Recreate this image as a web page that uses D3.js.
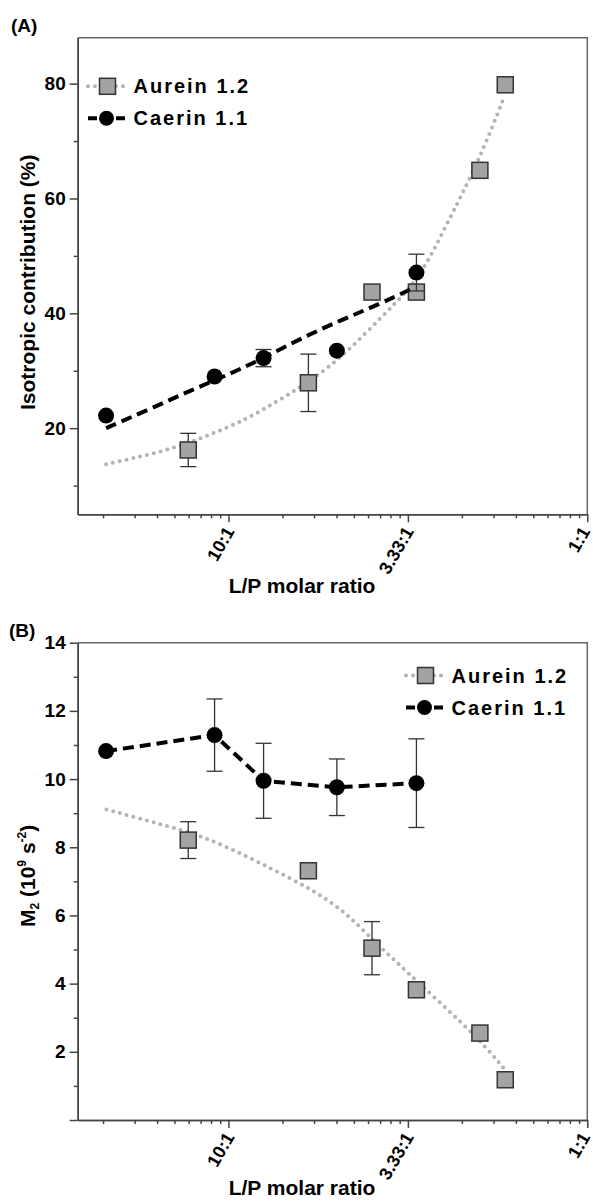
<!DOCTYPE html>
<html>
<head>
<meta charset="utf-8">
<script src="https://cdn.jsdelivr.net/npm/d3@7"></script>
<style>
  body { margin: 0; background: #fff; }
  svg text { font-family: "Liberation Sans", Arial, sans-serif; font-weight: bold; fill: #000; }
</style>
</head>
<body>
<svg id="chart" width="593" height="1202"></svg>
<script>
// x axis is logarithmic, labelled with the L/P ratios
var xTickValues = [0.01, 0.1, 1];
var xTickLabels = ["10:1", "3.33:1", "1:1"];

// sample positions on the x axis
var aureinX = [0.00597, 0.0279, 0.0631, 0.1116, 0.252, 0.349];
var caerinX = [0.00208, 0.00837, 0.0157, 0.0402, 0.1116];

// (A) isotropic contribution (%)
var aureinIso = [16.2, 27.9, 43.7, 43.7, 64.9, 79.8];
var aureinIsoErr = [2.9, 5.0, 0, 0, 0, 0];
var caerinIso = [22.2, 29.0, 32.2, 33.5, 47.1];
var caerinIsoErr = [0, 0, 1.5, 0, 3.2];

// fitted curves in (A)
var aureinIsoFitX = [0.00208, 0.00297, 0.00459, 0.0070, 0.0107, 0.0133, 0.0203, 0.0339, 0.0480, 0.0732, 0.0946, 0.1116, 0.1336, 0.1727, 0.2038, 0.2440, 0.2882, 0.3404];
var aureinIsoFit = [13.7, 14.8, 16.2, 18.2, 20.6, 22.0, 25.3, 29.8, 33.9, 39.7, 43.2, 46.0, 49.8, 56.8, 61.2, 66.3, 71.6, 77.3];
var caerinIsoFitX = [0.00208, 0.00370, 0.00617, 0.0103, 0.0161, 0.0252, 0.0422, 0.0661, 0.1089];
var caerinIsoFit = [20.0, 23.4, 26.6, 29.5, 32.4, 35.6, 38.8, 41.3, 44.5];

// (B) M2 (10^9 s^-2)
var aureinM2 = [8.21, 7.31, 5.04, 3.82, 2.55, 1.18];
var aureinM2Err = [0.54, 0, 0.78, 0, 0, 0];
var caerinM2 = [10.82, 11.29, 9.95, 9.76, 9.88];
var caerinM2Err = [0, 1.06, 1.1, 0.83, 1.3];

var aureinM2FitX = [0.00209, 0.00370, 0.00702, 0.0133, 0.0231, 0.0339, 0.0480, 0.0635, 0.113, 0.2535, 0.354];
var aureinM2Fit = [9.11, 8.75, 8.36, 7.68, 7.04, 6.55, 5.95, 5.28, 4.06, 2.35, 1.42];

var svg = d3.select("#chart");
var axisColor = "#444";

function zip(xs, ys, es) {
    return xs.map(function(v, i) {
        return { x: v, y: ys[i], e: es ? es[i] : 0 };
    });
}

function drawPanel(p) {
    var left = 77.7, right = 587.3;
    var x = d3.scaleLog().domain([0.001445, 1]).range([left, right]);
    var y = d3.scaleLinear().domain(p.yDomain).range([p.bottom, p.top]);
    var g = svg.append("g");

    // frame top + right
    g.append("path")
        .attr("d", `M${left},${p.top}H${right}V${p.bottom}`)
        .attr("fill", "none")
        .attr("stroke", "#666")
        .attr("stroke-width", 1.5);

    // x axis minor ticks
    var isDecade = function(v) {
        var l = Math.log10(v);
        return Math.abs(l - Math.round(l)) < 1e-9;
    };
    var xMinor = g.append("g")
        .attr("transform", `translate(0,${p.bottom})`)
        .call(d3.axisBottom(x).tickValues(x.ticks().filter(v => !isDecade(v)))
            .tickSize(4).tickSizeOuter(0).tickFormat(""));
    var xMajor = g.append("g")
        .attr("transform", `translate(0,${p.bottom})`)
        .call(d3.axisBottom(x).tickValues(xTickValues)
            .tickSize(8).tickSizeOuter(0).tickFormat(""));
    xMajor.selectAll(".tick").append("text")
        .attr("transform", (d, i) => `translate(${i === 2 ? 3 : 6},17) rotate(-60)`)
        .attr("text-anchor", "end")
        .attr("font-size", 18)
        .text((d, i) => xTickLabels[i]);

    // y axis
    var yMinor = g.append("g")
        .attr("transform", `translate(${left},0)`)
        .call(d3.axisLeft(y).tickValues(p.yMinor).tickSize(4).tickSizeOuter(0).tickFormat(""));
    var yMajor = g.append("g")
        .attr("transform", `translate(${left},0)`)
        .call(d3.axisLeft(y).tickValues(p.yMajor).tickSize(8).tickSizeOuter(0).tickPadding(4)
            .tickFormat(d => p.yLabelled.includes(d) ? d : ""));
    yMajor.selectAll("text").attr("font-size", 19).attr("font-family", null);

    [xMinor, xMajor, yMinor, yMajor].forEach(a => {
        a.selectAll("path, line").attr("stroke", axisColor).attr("stroke-width", 1.5);
        a.attr("font-family", null);
    });

    // titles
    g.append("text")
        .attr("x", 302)
        .attr("y", p.xTitleY)
        .attr("text-anchor", "middle")
        .attr("font-size", 21)
        .text("L/P molar ratio");
    g.append("text")
        .attr("x", p.letterX)
        .attr("y", p.top - 6)
        .attr("font-size", 19)
        .text(p.letter);
    p.yTitle(g);

    var line = d3.line().x(d => x(d.x)).y(d => y(d.y));

    // aurein fit (grey dotted)
    g.append("path")
        .datum(zip(p.aFitX, p.aFit))
        .attr("d", line.curve(d3.curveBasis))
        .attr("fill", "none")
        .attr("stroke", "#b3b3b3")
        .attr("stroke-width", 4)
        .attr("stroke-linecap", "round")
        .attr("stroke-dasharray", "0 7");

    var aData = zip(aureinX, p.aY, p.aErr);
    var cData = zip(caerinX, p.cY, p.cErr);

    function errorBars(data) {
        var eb = g.append("g").selectAll("g")
            .data(data.filter(d => d.e > 0))
            .enter().append("g")
            .attr("stroke", "#333")
            .attr("stroke-width", 1.3);
        eb.append("line")
            .attr("x1", d => x(d.x)).attr("x2", d => x(d.x))
            .attr("y1", d => y(d.y + d.e)).attr("y2", d => y(d.y - d.e));
        eb.append("line")
            .attr("x1", d => x(d.x) - 8).attr("x2", d => x(d.x) + 8)
            .attr("y1", d => y(d.y + d.e)).attr("y2", d => y(d.y + d.e));
        eb.append("line")
            .attr("x1", d => x(d.x) - 8).attr("x2", d => x(d.x) + 8)
            .attr("y1", d => y(d.y - d.e)).attr("y2", d => y(d.y - d.e));
    }

    errorBars(aData);
    g.append("g").selectAll("rect")
        .data(aData)
        .enter().append("rect")
        .attr("x", d => x(d.x) - 8)
        .attr("y", d => y(d.y) - 8)
        .attr("width", 16)
        .attr("height", 16)
        .attr("fill", "#a3a3a3")
        .attr("stroke", "#333")
        .attr("stroke-width", 1.5);

    // caerin (black dashed)
    var cLine = p.cFitX ? zip(p.cFitX, p.cFit) : cData;
    g.append("path")
        .datum(cLine)
        .attr("d", line.curve(p.cFitX ? d3.curveBasis : d3.curveLinear))
        .attr("fill", "none")
        .attr("stroke", "#000")
        .attr("stroke-width", 4)
        .attr("stroke-dasharray", "11 6");

    errorBars(cData);
    g.append("g").selectAll("circle")
        .data(cData)
        .enter().append("circle")
        .attr("cx", d => x(d.x))
        .attr("cy", d => y(d.y))
        .attr("r", 8)
        .attr("fill", "#000");

    // legend
    var lg = g.append("g").attr("transform", `translate(${p.legend[0]},${p.legend[1]})`);
    lg.append("line")
        .attr("x1", 0).attr("x2", 37).attr("y1", 0).attr("y2", 0)
        .attr("stroke", "#b3b3b3").attr("stroke-width", 4)
        .attr("stroke-linecap", "round").attr("stroke-dasharray", "0 7");
    lg.append("rect")
        .attr("x", 11.5).attr("y", -8).attr("width", 16).attr("height", 16)
        .attr("fill", "#a3a3a3").attr("stroke", "#333").attr("stroke-width", 1.5);
    lg.append("text")
        .attr("x", 45.5).attr("y", 7)
        .attr("font-size", 20).attr("letter-spacing", 2)
        .text("Aurein 1.2");
    lg.append("line")
        .attr("x1", 0).attr("x2", 37).attr("y1", 32).attr("y2", 32)
        .attr("stroke", "#000").attr("stroke-width", 4)
        .attr("stroke-dasharray", "9 19");
    lg.append("circle")
        .attr("cx", 18.5).attr("cy", 32).attr("r", 7.5)
        .attr("fill", "#000");
    lg.append("text")
        .attr("x", 45.5).attr("y", 39)
        .attr("font-size", 20).attr("letter-spacing", 2)
        .text("Caerin 1.1");
}

drawPanel({
    letter: "(A)", letterX: 11,
    top: 37.7, bottom: 514.3, xTitleY: 593,
    yDomain: [5, 88],
    yMajor: [20, 40, 60, 80], yLabelled: [20, 40, 60, 80],
    yMinor: [10, 30, 50, 70],
    aY: aureinIso, aErr: aureinIsoErr, aFitX: aureinIsoFitX, aFit: aureinIsoFit,
    cY: caerinIso, cErr: caerinIsoErr, cFitX: caerinIsoFitX, cFit: caerinIsoFit,
    legend: [88, 86.3],
    yTitle: function(g) {
        g.append("text")
            .attr("transform", "translate(35,410) rotate(-90)")
            .attr("font-size", 21)
            .text("Isotropic contribution (%)");
    }
});

drawPanel({
    letter: "(B)", letterX: 9,
    top: 642.7, bottom: 1120, xTitleY: 1195,
    yDomain: [0, 14],
    yMajor: [0, 2, 4, 6, 8, 10, 12, 14], yLabelled: [2, 4, 6, 8, 10, 12, 14],
    yMinor: [1, 3, 5, 7, 9, 11, 13],
    aY: aureinM2, aErr: aureinM2Err, aFitX: aureinM2FitX, aFit: aureinM2Fit,
    cY: caerinM2, cErr: caerinM2Err,
    legend: [406, 675.5],
    yTitle: function(g) {
        var t = g.append("text")
            .attr("transform", "translate(35,927) rotate(-90)")
            .attr("font-size", 21);
        t.append("tspan").text("M");
        t.append("tspan").attr("font-size", 12).attr("dy", 4).text("2");
        t.append("tspan").attr("dy", -4).text(" (10");
        t.append("tspan").attr("font-size", 12).attr("dy", -9).text("9");
        t.append("tspan").attr("dy", 9).text("  s");
        t.append("tspan").attr("font-size", 12).attr("dy", -9).text("-2");
        t.append("tspan").attr("dy", 9).text(")");
    }
});
</script>
</body>
</html>
